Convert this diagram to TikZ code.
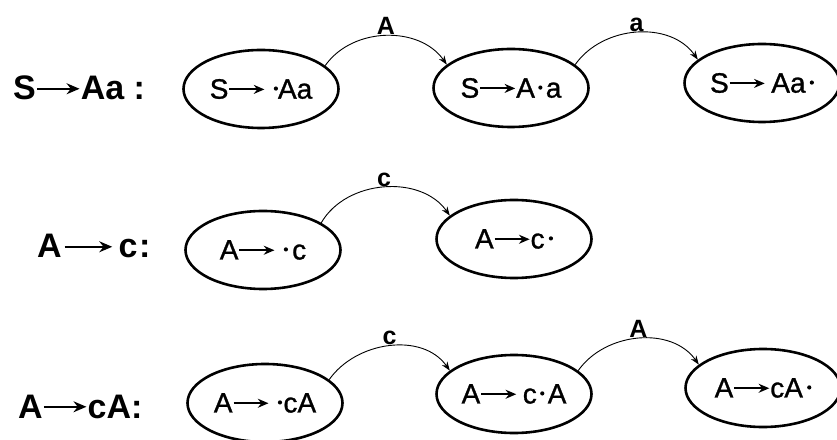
\documentclass[tikz,border=0pt]{standalone}
\usepackage{fontspec}
\setmainfont{Liberation Sans}
\newfontfamily\itemfont[FakeBold=1]{Liberation Sans}
\usetikzlibrary{shapes.geometric, arrows.meta}

% arrow and dot used inside the productions
\newcommand{\prodarrow}[1][1.25em]{\tikz[baseline=-0.33em]\draw[-{Stealth[length=0.38em,width=0.32em]}, line width=0.07em] (0,0) -- (#1,0);}
\newcommand{\itemdot}{\tikz[baseline=-0.36em]\fill (0,0) circle (0.075em);}

\begin{document}
\begin{tikzpicture}[x=1pt, y=1pt,
    itemset/.style={draw, ellipse, line width=2.6pt, minimum width=155pt, minimum height=78pt, inner sep=0pt, font=\fontsize{28}{32}\itemfont},
    rulelabel/.style={anchor=base west, inner sep=0pt, font=\fontsize{34}{40}\selectfont\bfseries},
    transition/.style={-{Stealth[length=9pt,width=6.5pt]}, line width=0.9pt},
    translabel/.style={above, inner sep=0.5pt, font=\fontsize{25}{28}\selectfont\bfseries}]
      \useasboundingbox (0,0) rectangle (837,439);

      % Draw the productions
      \node[rulelabel] (r1) at (13,339) {S\prodarrow Aa :};
      \node[rulelabel] (r2) at (37,181) {A\hspace{0.05em}\prodarrow[1.4em]\hspace{0.15em}c\hspace{0.05em}:};
      \node[rulelabel] (r3) at (18,21) {A\prodarrow cA:};

      % Draw the items of S -> Aa
      \node[itemset] (e1) at (261,350) {S\prodarrow\hspace{0.3em}\itemdot Aa};
      \node[itemset] (e2) at (511,351) {S\prodarrow A\hspace{0.12em}\itemdot\hspace{0.12em}a};
      \node[itemset] (e3) at (762,356) {S\prodarrow\hspace{0.2em}Aa\hspace{0.15em}\itemdot};

      % Draw the items of A -> c
      \node[itemset] (e4) at (263,189) {A\prodarrow\hspace{0.3em}\itemdot\hspace{0.15em}c};
      \node[itemset] (e5) at (514,200) {A\prodarrow c\hspace{0.15em}\itemdot};

      % Draw the items of A -> cA
      \node[itemset] (e6) at (265,36) {A\prodarrow\hspace{0.3em}\itemdot\hspace{0.05em}cA};
      \node[itemset] (e7) at (514,45) {A\prodarrow\hspace{0.2em}c\hspace{0.12em}\itemdot\hspace{0.12em}A};
      \node[itemset] (e8) at (763,51) {A\prodarrow cA\hspace{0.15em}\itemdot};

      % Draw the transitions
      \draw[transition] (e1.20) to[out=55, in=125] node[translabel] {A} (e2.160);
      \draw[transition] (e2.20) to[out=55, in=125] node[translabel] {a} (e3.160);
      \draw[transition] (e4.25) to[out=60, in=125] node[translabel] {c} (e5.160);
      \draw[transition] (e6.20) to[out=55, in=125] node[translabel] {c} (e7.160);
      \draw[transition] (e7.20) to[out=55, in=125] node[translabel] {A} (e8.160);
\end{tikzpicture}
\end{document}
